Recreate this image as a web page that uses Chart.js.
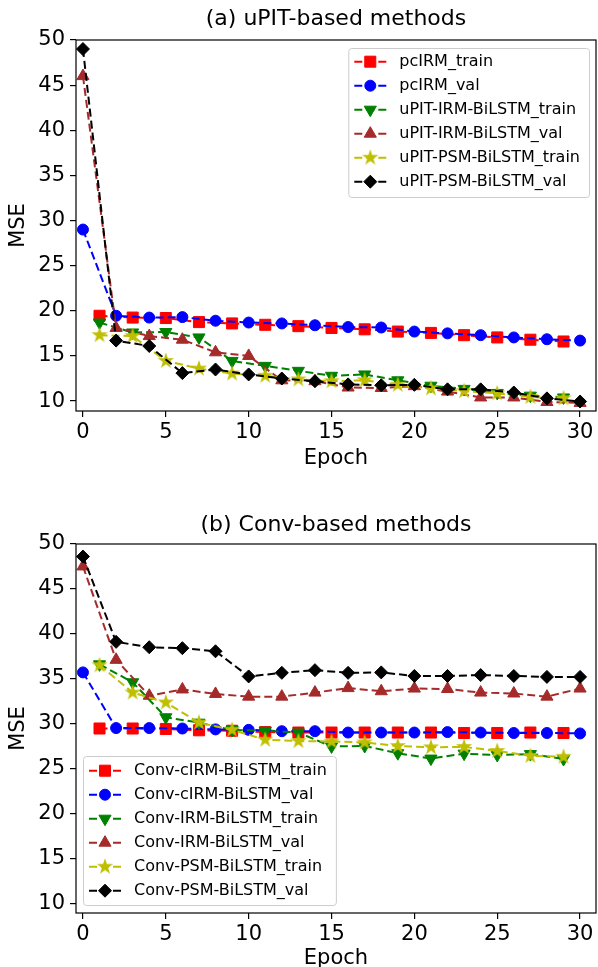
<!DOCTYPE html>
<html>
<head>
<meta charset="utf-8">
<script src="https://cdn.jsdelivr.net/npm/chart.js@4/dist/chart.umd.min.js"></script>
<style>
  html, body { margin: 0; padding: 0; background: #fff; }
  #wrap { position: relative; width: 598px; height: 967px; overflow: hidden; }
  canvas { position: absolute; left: 0; }
  #chartA { top: 0; }
  #chartB { top: 483px; }
</style>
</head>
<body>
<div id="wrap">
  <canvas id="chartA" width="598" height="483"></canvas>
  <canvas id="chartB" width="598" height="490"></canvas>
</div>
<script>
const EPOCHS_ODD = [1, 3, 5, 7, 9, 11, 13, 15, 17, 19, 21, 23, 25, 27, 29];
const EPOCHS_EVEN = [0, 2, 4, 6, 8, 10, 12, 14, 16, 18, 20, 22, 24, 26, 28, 30];
const X_TICKS = [0, 5, 10, 15, 20, 25, 30];
const Y_TICKS = [10, 15, 20, 25, 30, 35, 40, 45, 50];

// (a) uPIT-based methods
const UPIT_LABELS = [
  "pcIRM_train", "pcIRM_val",
  "uPIT-IRM-BiLSTM_train", "uPIT-IRM-BiLSTM_val",
  "uPIT-PSM-BiLSTM_train", "uPIT-PSM-BiLSTM_val"
];
const PCIRM_TRAIN = [19.45, 19.25, 19.2, 18.75, 18.6, 18.45, 18.3, 18.1, 17.95, 17.7, 17.55, 17.3, 17.05, 16.8, 16.6];
const PCIRM_VAL = [29.0, 19.45, 19.25, 19.3, 18.9, 18.7, 18.6, 18.4, 18.2, 18.15, 17.7, 17.5, 17.3, 17.05, 16.85, 16.7];
const UPIT_IRM_TRAIN = [18.7, 17.6, 17.65, 17.05, 14.45, 13.9, 13.35, 12.8, 12.95, 12.3, 11.7, 11.35, 10.9, 10.6, 10.4];
const UPIT_IRM_VAL = [46.0, 18.1, 17.2, 16.8, 15.4, 15.0, 12.3, 12.2, 11.5, 11.45, 11.65, 11.05, 10.4, 10.4, 9.9, 9.8];
const UPIT_PSM_TRAIN = [17.3, 17.2, 14.45, 13.6, 13.05, 12.8, 12.4, 12.2, 12.3, 11.8, 11.4, 11.1, 10.85, 10.45, 10.3];
const UPIT_PSM_VAL = [49.0, 16.7, 16.1, 13.1, 13.5, 12.95, 12.5, 12.2, 11.85, 11.75, 11.8, 11.3, 11.3, 10.95, 10.3, 9.95];

// (b) Conv-based methods
const CONV_LABELS = [
  "Conv-cIRM-BiLSTM_train", "Conv-cIRM-BiLSTM_val",
  "Conv-IRM-BiLSTM_train", "Conv-IRM-BiLSTM_val",
  "Conv-PSM-BiLSTM_train", "Conv-PSM-BiLSTM_val"
];
const CONV_CIRM_TRAIN = [29.45, 29.45, 29.4, 29.25, 29.2, 29.05, 29.0, 29.0, 29.0, 29.0, 29.0, 28.95, 28.95, 29.0, 28.95];
const CONV_CIRM_VAL = [35.7, 29.5, 29.5, 29.45, 29.35, 29.3, 29.15, 29.15, 29.0, 29.0, 29.0, 29.05, 29.0, 28.95, 28.95, 28.9];
const CONV_IRM_TRAIN = [36.6, 34.6, 30.7, 30.1, 29.3, 29.2, 29.0, 27.45, 27.5, 26.7, 26.1, 26.65, 26.5, 26.6, 26.05];
const CONV_IRM_VAL = [47.5, 37.1, 33.1, 33.8, 33.3, 33.0, 33.0, 33.45, 33.95, 33.6, 33.9, 33.85, 33.45, 33.35, 33.0, 33.9];
const CONV_PSM_TRAIN = [36.5, 33.45, 32.35, 30.1, 29.3, 28.2, 28.05, 28.0, 27.9, 27.5, 27.35, 27.4, 26.95, 26.4, 26.3];
const CONV_PSM_VAL = [48.6, 39.1, 38.5, 38.4, 38.05, 35.25, 35.65, 35.95, 35.65, 35.7, 35.3, 35.3, 35.4, 35.3, 35.2, 35.2];

Chart.defaults.font.family = '"DejaVu Sans", sans-serif';
Chart.defaults.color = "#000";

function makeStar(color, size) {
  const c = document.createElement("canvas");
  c.width = size;
  c.height = size;
  const g = c.getContext("2d");
  const r = size / 2 - 0.5;
  const ri = r * 0.382;
  g.beginPath();
  for (let i = 0; i < 10; i++) {
    const ang = -Math.PI / 2 + i * Math.PI / 5;
    const rr = i % 2 ? ri : r;
    g.lineTo(size / 2 + rr * Math.cos(ang), size / 2 + rr * Math.sin(ang));
  }
  g.closePath();
  g.fillStyle = color;
  g.fill();
  return c;
}

const STYLES = [
  { color: "#ff0000", pointStyle: "rect", radius: 7.8, rotation: 0 },
  { color: "#0000ff", pointStyle: "circle", radius: 5.5, rotation: 0 },
  { color: "#008000", pointStyle: "triangle", radius: 7, rotation: 180 },
  { color: "#a52a2a", pointStyle: "triangle", radius: 7, rotation: 0 },
  { color: "#bfbf00", pointStyle: makeStar("#bfbf00", 18), radius: 9, rotation: 0 },
  { color: "#000000", pointStyle: "rectRot", radius: 6.5, rotation: 0 }
];

function buildDatasets(labels, series) {
  return series.map((s, i) => {
    const st = STYLES[i];
    return {
      label: labels[i],
      data: s.x.map((x, k) => ({ x: x, y: s.y[k] })),
      borderColor: st.color,
      backgroundColor: st.color,
      borderWidth: 2,
      borderDash: [8, 4],
      pointStyle: st.pointStyle,
      pointRadius: st.radius,
      pointHoverRadius: st.radius,
      pointRotation: st.rotation,
      pointBackgroundColor: st.color,
      pointBorderColor: st.color,
      pointBorderWidth: 1,
      fill: false,
      tension: 0,
      // later series on top, like matplotlib
      order: series.length - i
    };
  });
}

function drawLegend(chart) {
  const opts = chart.options.plugins.boxLegend;
  const a = chart.chartArea;
  const ctx = chart.ctx;
  const sets = chart.data.datasets;
  ctx.save();
  ctx.font = '16px "DejaVu Sans"';
  const textW = Math.max(...sets.map(d => ctx.measureText(d.label).width));
  const rowH = 24;
  const w = 51 + textW + 9;
  const h = sets.length * rowH + 5;
  const x = opts.corner === "upper right" ? a.right - 7 - w : a.left + 7;
  const y = opts.corner === "upper right" ? a.top + 8 : a.bottom - 8 - h;

  ctx.beginPath();
  ctx.roundRect(x + 0.5, y + 0.5, w, h, 3);
  ctx.fillStyle = "rgba(255,255,255,0.8)";
  ctx.fill();
  ctx.strokeStyle = "#cccccc";
  ctx.lineWidth = 1;
  ctx.stroke();

  sets.forEach((d, i) => {
    const cy = y + opts.firstRow + i * rowH;
    ctx.strokeStyle = d.borderColor;
    ctx.lineWidth = 2;
    ctx.setLineDash([8, 4]);
    ctx.beginPath();
    ctx.moveTo(x + 6, cy);
    ctx.lineTo(x + 38, cy);
    ctx.stroke();
    ctx.setLineDash([]);
    ctx.fillStyle = d.pointBackgroundColor;
    ctx.strokeStyle = d.pointBorderColor;
    ctx.lineWidth = 1;
    Chart.helpers.drawPoint(ctx, {
      pointStyle: d.pointStyle,
      rotation: d.pointRotation,
      radius: d.pointRadius,
      borderWidth: 1
    }, x + 22, cy);
    ctx.fillStyle = "#000";
    ctx.textBaseline = "middle";
    ctx.textAlign = "left";
    ctx.fillText(d.label, x + 51, cy);
  });
  ctx.restore();
}

const frameAndLegend = {
  id: "frameAndLegend",
  afterDatasetsDraw(chart) {
    const a = chart.chartArea;
    const ctx = chart.ctx;
    ctx.save();
    ctx.strokeStyle = "#000";
    ctx.lineWidth = 1.2;
    ctx.strokeRect(a.left, a.top, a.right - a.left, a.bottom - a.top);
    ctx.restore();
    drawLegend(chart);
  }
};

function makeChart(id, title, labels, series, cfg) {
  const ctx = document.getElementById(id).getContext("2d");
  return new Chart(ctx, {
    type: "line",
    data: { datasets: buildDatasets(labels, series) },
    plugins: [frameAndLegend],
    options: {
      responsive: false,
      animation: false,
      devicePixelRatio: 1,
      layout: { autoPadding: false, padding: { left: 0, right: 2, top: 0, bottom: 0 } },
      plugins: {
        legend: { display: false },
        tooltip: { enabled: false },
        title: {
          display: true,
          fullSize: false,
          text: title,
          font: { size: 22, weight: "normal" },
          padding: cfg.titlePad
        },
        boxLegend: { corner: cfg.corner, firstRow: cfg.firstRow }
      },
      scales: {
        x: {
          type: "linear",
          min: -0.42,
          max: 30.96,
          afterBuildTicks: axis => { axis.ticks = X_TICKS.map(v => ({ value: v })); },
          afterFit: scale => {
            scale.height = cfg.xHeight;
            scale.paddingRight = 0;
            scale.paddingLeft = 0;
          },
          ticks: { font: { size: 21 }, padding: 3, maxRotation: 0 },
          grid: { display: true, drawOnChartArea: false, drawTicks: true, tickLength: 6, color: "#000", lineWidth: 1.2 },
          border: { display: false },
          title: {
            display: true,
            text: "Epoch",
            font: { size: 21, lineHeight: 1 },
            padding: { top: 0, bottom: cfg.xTitlePad }
          }
        },
        y: {
          type: "linear",
          min: 8.9,
          max: 50,
          afterBuildTicks: axis => { axis.ticks = Y_TICKS.map(v => ({ value: v })); },
          afterFit: scale => { scale.width = 76; },
          ticks: { font: { size: 21 }, padding: 5 },
          grid: { display: true, drawOnChartArea: false, drawTicks: true, tickLength: 6, color: "#000", lineWidth: 1.2 },
          border: { display: false },
          title: {
            display: true,
            text: "MSE",
            font: { size: 21, lineHeight: 1 },
            padding: { top: 8, bottom: 0 }
          }
        }
      }
    }
  });
}

makeChart("chartA", "(a) uPIT-based methods", UPIT_LABELS, [
  { x: EPOCHS_ODD, y: PCIRM_TRAIN },
  { x: EPOCHS_EVEN, y: PCIRM_VAL },
  { x: EPOCHS_ODD, y: UPIT_IRM_TRAIN },
  { x: EPOCHS_EVEN, y: UPIT_IRM_VAL },
  { x: EPOCHS_ODD, y: UPIT_PSM_TRAIN },
  { x: EPOCHS_EVEN, y: UPIT_PSM_VAL }
], { corner: "upper right", firstRow: 13.7, titlePad: { top: 6, bottom: 7.6 }, xHeight: 72, xTitlePad: 13.5 });

makeChart("chartB", "(b) Conv-based methods", CONV_LABELS, [
  { x: EPOCHS_ODD, y: CONV_CIRM_TRAIN },
  { x: EPOCHS_EVEN, y: CONV_CIRM_VAL },
  { x: EPOCHS_ODD, y: CONV_IRM_TRAIN },
  { x: EPOCHS_EVEN, y: CONV_IRM_VAL },
  { x: EPOCHS_ODD, y: CONV_PSM_TRAIN },
  { x: EPOCHS_EVEN, y: CONV_PSM_VAL }
], { corner: "lower left", firstRow: 14.7, titlePad: { top: 28.8, bottom: 5.8 }, xHeight: 60, xTitlePad: 3.5 });
</script>
</body>
</html>
